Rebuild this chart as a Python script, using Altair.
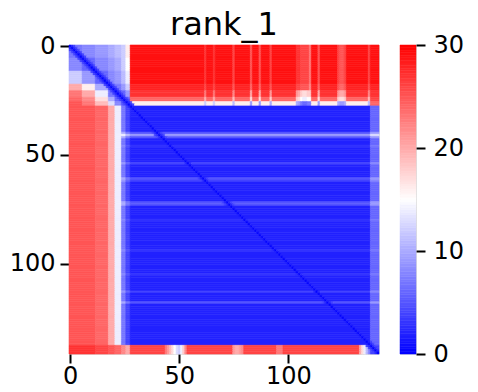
import altair as alt
import pandas as pd

N = 142
TITLE = "rank_1"
x_ticks = [0, 50, 100]
cbar_ticks = [0, 10, 20, 30]

# segment boundaries (residue index) and block-level PAE values
seg_edges = [0, 6, 12, 18, 21, 24, 26, 28, 138, 142]
block = [
    [7, 8, 9, 10, 11, 12, 16, 29, 29],
    [8, 6, 8, 9, 10, 12, 15, 29, 29],
    [12, 9, 6, 8, 9, 11, 14, 29, 29],
    [20, 16, 10, 5, 7, 9, 12, 28, 28],
    [23, 20, 14, 7, 4, 6, 9, 27, 27],
    [24, 22, 17, 10, 6, 3, 6, 24, 26],
    [25, 23, 19, 13, 8, 5, 3, 16, 24],
    [25, 25, 24, 20, 14, 7, 4, 2, 6],
    [27, 27, 26, 25, 24, 22, 20, 26, 4],
]
# lighter vertical streaks in the top-right red block
streak_cols = [62, 66, 75, 83, 87, 92, 104, 105, 106, 107, 108, 109, 110, 114, 123, 124, 125, 126, 137]
streak_upper = [2, 2, 3, 4, 4, 3, 2, 2, 3, 3, 3, 3, 6, 4, 3, 4, 4, 3, 3]
streak_lower = [4, 4, 5, 7, 7, 6, 6, 7, 9, 10, 10, 9, 9, 7, 6, 7, 7, 6, 5]
# lighter spots in the bottom (C-terminal) red rows
bottom_dip_cols = [44, 45, 46, 47, 48, 49, 50, 51, 52, 53, 75, 76, 77, 78, 79, 95, 96, 97, 133, 134, 135, 136, 137]
bottom_dip = [3, 5, 7, 9, 11, 13, 14, 12, 8, 4, 5, 6, 6, 5, 4, 3, 3, 3, 6, 9, 12, 15, 18]
# lighter horizontal stripes inside the blue domain block
stripe_rows = [40, 41, 42, 46, 54, 61, 62, 72, 73, 80, 94, 105, 113, 118]
stripe_add = [3, 7, 3, 1, 2, 3, 2, 3, 3, 1, 1, 1, 2, 3]
# values on and next to the diagonal
diag_band = [0.3, 2.5, 4]


def seg(i):
    for k in range(len(seg_edges) - 1):
        if seg_edges[k] <= i < seg_edges[k + 1]:
            return k
    return len(seg_edges) - 2


records = []
for i in range(N):
    ri = seg(i)
    row = []
    for j in range(N):
        v = block[ri][seg(j)]
        if i < 28 and j >= 28 and j in streak_cols:
            k = streak_cols.index(j)
            v -= streak_upper[k] if i <= 20 else streak_lower[k]
        if i >= 138 and 28 <= j < 138 and j in bottom_dip_cols:
            v -= bottom_dip[bottom_dip_cols.index(j)]
        if 28 <= i < 138 and j >= 24 and i in stripe_rows:
            v += stripe_add[stripe_rows.index(i)]
        d = abs(i - j)
        if d < len(diag_band):
            v = min(v, diag_band[d])
        row.append(max(0, min(30, v)))
    # merge runs of equal values into one rect
    start = 0
    for j in range(1, N + 1):
        if j == N or row[j] != row[start]:
            records.append({"x0": start - 0.5, "x1": j - 0.5,
                            "y0": i - 0.5, "y1": i + 0.5, "v": row[start]})
            start = j

df = pd.DataFrame(records)

cscale = alt.Scale(domain=[0, 15, 30], range=["#0000ff", "#ffffff", "#ff0000"],
                   interpolate="rgb", clamp=True)

axis_common = dict(title=None, grid=False, domain=False, ticks=True, tickSize=9,
                   tickWidth=2, tickColor="black", labelFont="DejaVu Sans",
                   labelFontSize=24, labelColor="black")

heat = alt.Chart(df).mark_rect(strokeWidth=0.6).encode(
    x=alt.X("x0:Q", scale=alt.Scale(domain=[-0.5, N - 0.5], nice=False, zero=False),
            axis=alt.Axis(values=x_ticks, labelPadding=1, **axis_common)),
    x2="x1:Q",
    y=alt.Y("y0:Q", scale=alt.Scale(domain=[-0.5, N - 0.5], nice=False, zero=False, reverse=True),
            axis=alt.Axis(values=x_ticks, labelPadding=5, **axis_common)),
    y2="y1:Q",
    color=alt.Color("v:Q", scale=cscale, legend=None),
    stroke=alt.Stroke("v:Q", scale=cscale, legend=None),
).properties(
    width=310, height=309,
    title=alt.TitleParams(TITLE, font="DejaVu Sans", fontSize=32, fontWeight="normal",
                          color="black", anchor="middle", offset=-8),
)

cb_lo = [k * 0.25 for k in range(120)]
cb_df = pd.DataFrame({"lo": cb_lo, "hi": [v + 0.25 for v in cb_lo],
                      "mid": [v + 0.125 for v in cb_lo]})

cbar = alt.Chart(cb_df).mark_rect(strokeWidth=0.5).encode(
    x=alt.value(0), x2=alt.value(16),
    y=alt.Y("lo:Q", scale=alt.Scale(domain=[0, 30], nice=False, zero=False),
            axis=alt.Axis(orient="right", values=cbar_ticks, labelPadding=8, **axis_common)),
    y2="hi:Q",
    color=alt.Color("mid:Q", scale=cscale, legend=None),
    stroke=alt.Stroke("mid:Q", scale=cscale, legend=None),
).properties(width=16, height=309)

chart = alt.hconcat(heat, cbar, spacing=19).properties(
    padding={"left": 0, "top": 0, "right": 0, "bottom": 0}
).configure_view(stroke="black", strokeWidth=2).configure(background="white")

chart.save("out.html", embed_options={"renderer": "svg", "actions": False})
